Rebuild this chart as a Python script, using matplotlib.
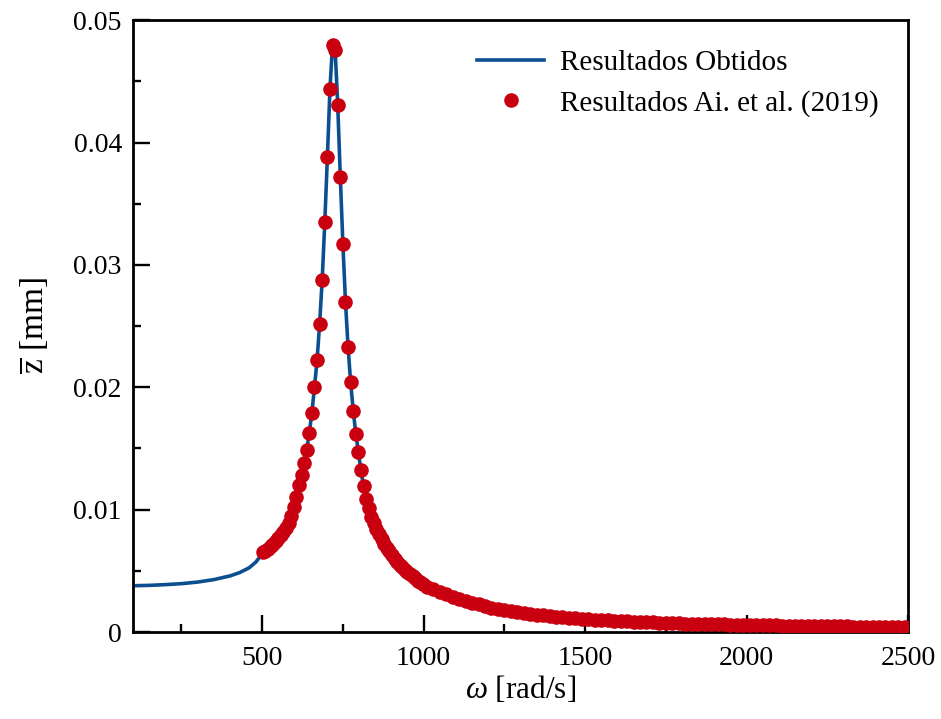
"""
Resposta em frequencia: amplitude z versus omega, comparada com Ai et al. (2019)
"""
import numpy as np
import matplotlib
matplotlib.use("Agg")
import matplotlib.pyplot as plt
from matplotlib.ticker import MultipleLocator, FuncFormatter

###############################################################################
# Dados
# Resultados obtidos (linha): trecho de baixa frequencia
omega_low = [100, 150, 200, 250, 300, 350, 400, 430, 460, 480, 495]
z_low = [0.00378, 0.00381, 0.00387, 0.00395, 0.00408, 0.00428, 0.00458,
         0.00485, 0.00525, 0.0057, 0.0062]

# Resultados Ai et al. (2019) (pontos)
omega_ai = [
    502, 510, 518, 526, 534, 542, 550, 558, 566, 574, 582, 590, 598, 606,
    614, 622, 630, 638, 646, 654, 662, 670, 678, 686, 694, 702, 710, 718,
    726, 734, 742, 750, 758, 766, 774, 782, 790, 798, 806, 814, 822, 830,
    838, 846, 854, 862, 870, 878, 886, 894, 902, 910, 918, 926, 934, 942,
    950, 958, 966, 974, 982, 990, 998,
    1010, 1030, 1050, 1070, 1090, 1110, 1130, 1150, 1170, 1190, 1210, 1230,
    1250, 1270, 1290, 1310, 1330, 1350, 1370, 1390, 1410, 1430, 1450, 1470,
    1490, 1510, 1530, 1550, 1570, 1590, 1610, 1630, 1650, 1670, 1690, 1710,
    1730, 1750, 1770, 1790, 1810, 1830, 1850, 1870, 1890, 1910, 1930, 1950,
    1970, 1990, 2010, 2030, 2050, 2070, 2090, 2110, 2130, 2150, 2170, 2190,
    2210, 2230, 2250, 2270, 2290, 2310, 2330, 2350, 2370, 2390, 2410, 2430,
    2450, 2470, 2490]
z_ai = [
    0.0065, 0.0066, 0.0068, 0.0070, 0.0072, 0.0074, 0.0077, 0.0079, 0.0082,
    0.0085, 0.0089, 0.0095, 0.0102, 0.0110, 0.0120, 0.0128, 0.0138, 0.0149,
    0.0163, 0.0179, 0.0200, 0.0222, 0.0252, 0.0288, 0.0335, 0.0388, 0.0444,
    0.0480,
    0.0476, 0.0431, 0.0372, 0.0317, 0.0270, 0.0233, 0.0204, 0.0181, 0.0162,
    0.0147, 0.0132, 0.0119, 0.0109, 0.0101, 0.0094, 0.0089, 0.0084, 0.0080,
    0.0076, 0.0072, 0.0069, 0.0066, 0.0063, 0.0060, 0.0057, 0.0055, 0.0053,
    0.0051, 0.0049, 0.0047, 0.0046, 0.0044, 0.0042, 0.0041, 0.0039,
    0.0037, 0.0035, 0.0033, 0.0031, 0.0029, 0.0027, 0.0025, 0.0024, 0.0023,
    0.0021, 0.0020, 0.0019, 0.00180, 0.00171, 0.00163, 0.00155, 0.00148,
    0.00142, 0.00136, 0.00130, 0.00125, 0.00120, 0.00116, 0.00112, 0.00108,
    0.00104, 0.00101, 0.00098, 0.00095, 0.00092, 0.00090, 0.00087, 0.00085,
    0.00082, 0.00080, 0.00078, 0.00076, 0.00074, 0.00072, 0.00071, 0.00069,
    0.00068, 0.00066, 0.00065, 0.00064, 0.00063, 0.00062, 0.00061, 0.00060,
    0.00059, 0.00058, 0.00057, 0.00056, 0.00055, 0.00054, 0.00053, 0.00052,
    0.00051, 0.00050, 0.00049, 0.00049, 0.00048, 0.00047, 0.00046, 0.00046,
    0.00045, 0.00044, 0.00044, 0.00043, 0.00042, 0.00042, 0.00041, 0.00041,
    0.00040, 0.00040]

# A linha passa pelos mesmos valores acima de 500 rad/s
omega_line = omega_low + omega_ai + [2500]
z_line = z_low + z_ai + [0.00039]

###############################################################################
# Estilo
plt.rcParams["font.family"] = "serif"
plt.rcParams["font.serif"] = ["Liberation Serif", "DejaVu Serif"]
plt.rcParams["mathtext.fontset"] = "custom"
plt.rcParams["mathtext.rm"] = "Liberation Serif"
plt.rcParams["mathtext.it"] = "Liberation Serif:italic"

fig = plt.figure(figsize=(9.41, 7.19), dpi=100)
ax = fig.add_axes([0.1413, 0.121, 0.8237, 0.851])

ax.plot(omega_line, z_line, color="#0b4f8f", lw=2.6,
        label="Resultados Obtidos", zorder=2)
ax.plot(omega_ai, z_ai, "o", color="#c8000f", ms=10.5, mec="none",
        label="Resultados Ai. et al. (2019)", zorder=3)

ax.set_xlim(100, 2500)
ax.set_ylim(0, 0.05)
ax.xaxis.set_major_locator(MultipleLocator(500))
ax.xaxis.set_minor_locator(MultipleLocator(250))
ax.yaxis.set_major_locator(MultipleLocator(0.01))
ax.yaxis.set_minor_locator(MultipleLocator(0.005))
ax.yaxis.set_major_formatter(FuncFormatter(lambda v, p: "%g" % round(v, 3)))

ax.tick_params(which="both", direction="in", top=False, right=False,
               width=1.7, labelsize=20, pad=8)
ax.tick_params(axis="x", which="both", pad=10)
ax.tick_params(which="major", length=12)
ax.tick_params(which="minor", length=6)
for s in ax.spines.values():
    s.set_linewidth(2.0)

ax.set_xlabel(r"$\omega$ [rad/s]", fontsize=22.5, labelpad=2)
ax.set_ylabel(r"$\overline{\mathrm{z}}$ [mm]", fontsize=24, labelpad=16)

ax.legend(loc="upper right", bbox_to_anchor=(0.996, 0.994), frameon=False,
          fontsize=21, handlelength=2.3, handletextpad=0.55,
          labelspacing=0.45)

fig.savefig("out.png", dpi=100)
